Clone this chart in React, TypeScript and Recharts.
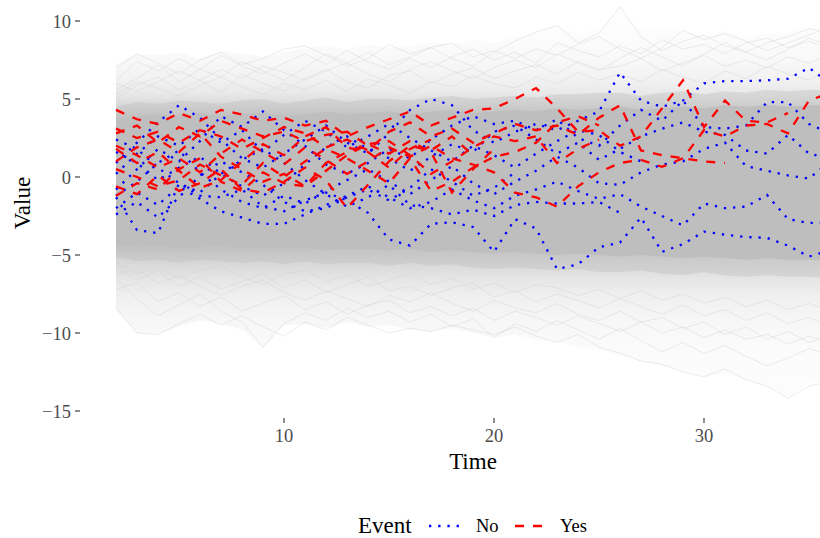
import React from 'react';
import { ComposedChart, Line, Area, XAxis, YAxis, Legend } from 'recharts';

const FONT = '"Liberation Serif", "Times New Roman", serif';

// time points
const times = [2, 3, 4, 5, 6, 7, 8, 9, 10, 11, 12, 13, 14, 15, 16, 17, 18, 19, 20, 21, 22, 23, 24, 25, 26, 27, 28, 29, 30, 31, 32, 33, 34, 35, 36];
const xTicks = [10, 20, 30];
const yTicks = [-15, -10, -5, 0, 5, 10];

// grey background (all subjects) – envelopes
const coreHigh = [3.7, 3.9, 4.0, 3.9, 4.1, 3.9, 4.0, 4.1, 3.9, 4.0, 4.2, 4.0, 4.1, 4.2, 4.0, 4.2, 4.3, 4.1, 4.2, 4.3, 4.2, 4.4, 4.3, 4.4, 4.5, 4.3, 4.4, 4.5, 4.4, 4.6, 4.5, 4.6, 4.5, 4.6, 4.6];
const coreLow = [-4.3, -4.5, -4.4, -4.6, -4.5, -4.4, -4.6, -4.5, -4.6, -4.5, -4.7, -4.6, -4.6, -4.7, -4.6, -4.8, -4.7, -4.8, -4.9, -4.8, -4.9, -5.0, -4.9, -5.0, -5.1, -5.0, -5.1, -5.2, -5.1, -5.2, -5.3, -5.2, -5.3, -5.3, -5.4];
const innerHigh = [4.5, 4.8, 4.7, 4.9, 4.8, 4.7, 4.9, 5.0, 4.7, 4.9, 5.1, 4.8, 5.0, 5.0, 4.9, 5.1, 5.2, 5.0, 5.1, 5.2, 5.1, 5.3, 5.3, 5.4, 5.4, 5.2, 5.4, 5.5, 5.3, 5.5, 5.4, 5.6, 5.5, 5.6, 5.5];
const innerLow = [-5.1, -5.4, -5.3, -5.5, -5.3, -5.4, -5.5, -5.4, -5.6, -5.4, -5.6, -5.5, -5.5, -5.7, -5.5, -5.7, -5.6, -5.8, -5.9, -5.8, -5.9, -6.0, -5.9, -6.1, -6.1, -6.0, -6.2, -6.3, -6.1, -6.3, -6.4, -6.3, -6.4, -6.4, -6.5];
const outerHigh = [7.2, 7.9, 7.8, 8.0, 7.6, 8.1, 7.9, 7.7, 8.0, 8.3, 8.4, 8.2, 8.5, 8.3, 8.4, 8.6, 8.5, 8.8, 8.6, 9.0, 9.3, 9.7, 9.2, 9.5, 10.9, 9.4, 9.6, 9.3, 9.1, 9.4, 9.0, 9.2, 9.3, 9.6, 9.4];
const outerLow = [-8.5, -10.0, -10.1, -9.6, -9.2, -9.4, -9.8, -11.0, -9.5, -9.4, -9.7, -9.3, -9.6, -9.5, -9.8, -9.9, -9.7, -10.0, -10.3, -10.1, -10.4, -10.6, -10.9, -11.1, -11.4, -11.8, -12.1, -12.4, -12.8, -12.6, -13.0, -13.4, -14.2, -13.1, -13.3];

// a few faint individual grey trajectories in the fringes
const greyTop1 = [6.2, 7.4, 6.8, 7.6, 6.9, 7.8, 7.1, 6.6, 7.3, 7.9, 7.2, 8.1, 7.4, 6.9, 7.6, 7.0, 7.7, 8.2, 7.5, 8.0, 7.3, 8.6, 8.1, 7.7, 8.4, 7.9, 8.8, 8.2, 8.5, 7.9, 8.6, 8.9, 8.3, 8.7, 8.2];
const greyTop2 = [5.6, 6.3, 7.2, 6.1, 6.9, 6.4, 7.4, 6.8, 6.2, 7.0, 7.9, 7.3, 8.0, 7.2, 7.7, 8.3, 7.6, 7.1, 8.0, 8.7, 9.3, 9.7, 8.6, 9.2, 10.9, 9.0, 8.1, 8.7, 9.1, 8.4, 8.0, 8.6, 9.0, 9.5, 9.3];
const greyTop3 = [7.0, 7.9, 7.3, 6.6, 7.5, 8.0, 7.2, 7.6, 8.2, 8.4, 7.8, 7.1, 7.6, 8.5, 7.9, 8.3, 8.6, 7.7, 8.1, 7.6, 8.2, 7.8, 8.5, 9.0, 8.2, 7.6, 8.3, 9.4, 8.8, 9.2, 8.7, 8.1, 8.6, 9.1, 9.6];
const greyTop4 = [5.0, 5.9, 6.4, 5.6, 6.2, 5.4, 6.6, 6.0, 5.5, 6.3, 6.9, 6.1, 5.7, 6.5, 6.8, 6.0, 6.6, 7.0, 6.3, 6.8, 7.2, 6.6, 7.4, 6.9, 7.1, 7.6, 6.8, 7.3, 7.8, 7.1, 7.5, 7.0, 7.7, 7.3, 7.9];
const greyTop5 = [6.0, 5.5, 6.1, 6.8, 6.2, 6.9, 6.3, 7.1, 6.7, 6.2, 6.8, 7.3, 6.6, 6.1, 6.9, 7.4, 6.8, 6.3, 7.0, 7.5, 7.0, 7.9, 7.3, 6.8, 7.6, 8.3, 7.7, 7.1, 7.9, 8.6, 8.0, 7.5, 8.2, 8.9, 8.4];
const greyTop6 = [5.3, 6.1, 5.7, 5.2, 5.9, 6.4, 5.8, 5.3, 6.0, 5.6, 6.2, 5.5, 6.3, 5.9, 5.4, 6.1, 5.8, 6.5, 6.0, 5.7, 6.4, 6.0, 6.7, 6.2, 6.6, 6.1, 6.9, 6.4, 6.0, 6.8, 6.3, 7.1, 6.6, 6.2, 6.9];
const greyBot1 = [-6.5, -7.8, -8.9, -8.2, -7.5, -8.6, -9.3, -10.9, -9.4, -8.7, -9.2, -8.4, -9.0, -8.6, -9.3, -8.8, -9.6, -9.1, -10.3, -9.4, -9.9, -9.2, -9.8, -10.4, -9.7, -10.5, -11.2, -10.6, -11.3, -10.8, -11.5, -12.1, -11.6, -11.0, -11.4];
const greyBot2 = [-8.4, -10.0, -10.1, -9.4, -8.8, -9.5, -8.9, -9.6, -10.2, -9.3, -9.8, -9.0, -9.5, -10.0, -9.7, -9.9, -9.5, -9.8, -10.1, -9.6, -10.2, -10.6, -10.1, -10.9, -11.3, -11.8, -12.0, -12.5, -12.8, -12.3, -13.0, -13.4, -14.2, -13.4, -13.1];
const greyBot3 = [-7.2, -6.8, -8.0, -7.4, -8.3, -7.7, -8.6, -8.1, -7.6, -8.5, -8.0, -8.8, -8.2, -7.9, -8.7, -8.3, -8.9, -8.4, -9.2, -8.6, -9.0, -9.5, -8.9, -9.4, -9.9, -9.3, -10.0, -9.6, -10.3, -9.8, -10.4, -10.1, -10.7, -10.2, -10.6];
const greyBot4 = [-5.8, -6.6, -6.0, -7.0, -6.4, -7.2, -6.7, -6.2, -7.1, -6.6, -7.4, -6.9, -6.4, -7.3, -7.0, -7.6, -7.1, -6.8, -7.7, -7.3, -8.0, -7.5, -7.9, -8.4, -7.8, -8.3, -8.8, -8.2, -8.9, -8.5, -9.2, -8.7, -9.4, -9.0, -9.6];
const greyBot5 = [-6.2, -5.9, -6.8, -6.3, -7.0, -7.6, -7.0, -6.6, -7.4, -7.9, -7.3, -7.8, -8.3, -7.6, -8.0, -7.4, -8.1, -8.6, -7.9, -8.4, -8.7, -8.1, -8.8, -9.2, -8.6, -9.3, -9.0, -9.7, -9.3, -10.1, -9.6, -10.4, -9.9, -10.6, -10.2];
const greyBot6 = [-5.5, -6.2, -5.8, -6.5, -6.0, -5.7, -6.4, -6.9, -6.2, -6.0, -6.7, -6.3, -7.0, -6.6, -6.2, -6.9, -6.5, -7.2, -6.8, -7.4, -6.9, -7.1, -7.6, -7.2, -7.8, -7.3, -7.9, -7.5, -8.1, -7.7, -8.3, -7.9, -8.5, -8.1, -8.6];

// Event = No (blue, dotted)
const no1 = [0.9, 2.2, 3.5, 4.6, 3.8, 2.4, 1.2, 0.6, 1.5, 2.4, 3.3, 2.2, 1.5, 2.8, 4.3, 5.0, 4.6, 3.0, 2.2, 2.9, 3.4, 3.0, 3.6, 4.2, 6.7, 4.9, 4.5, 4.9, 6.0, 6.15, 6.15, 6.2, 6.3, 7.0, 6.0];
const no2 = [-0.8, 0.5, 1.8, 1.0, 2.3, 3.9, 3.2, 4.2, 3.0, 2.0, 0.8, 0.2, 0.9, 1.8, 1.2, 2.4, 3.3, 3.9, 3.4, 3.6, 3.0, 3.7, 2.5, 2.0, 3.3, 4.3, 3.6, 4.9, 3.2, 3.1, 3.3, 4.8, 4.8, 3.4, 2.8];
const no3 = [1.6, 0.9, -0.2, 0.6, 1.3, 0.2, -0.6, -1.2, -0.4, 0.8, 1.9, 2.6, 1.8, 1.2, 0.4, 1.3, 2.1, 1.6, 2.9, 3.3, 2.4, 1.5, 2.2, 1.1, 1.8, 2.6, 3.1, 3.5, 2.9, 2.7, 1.7, 1.5, 2.7, 1.5, 1.2];
const no4 = [-1.2, -0.3, 0.9, 1.7, 0.3, -0.8, -1.6, -2.0, -1.2, -1.7, -0.9, -0.2, 0.5, -0.3, -1.1, -0.2, 0.7, -0.4, -1.1, -0.3, 0.4, 1.3, 0.6, -0.4, -0.5, 0.3, 0.8, 1.0, 1.8, 2.2, 0.7, 0.4, 0.1, -0.1, 1.0];
const no5 = [-2.0, -1.0, -1.8, -0.6, -1.4, -2.2, -2.6, -3.0, -3.0, -2.4, -1.8, -1.2, -0.6, -1.3, -2.0, -1.6, -0.8, -1.5, -2.0, -1.2, -0.8, -0.3, -0.9, -1.4, -1.1, -1.9, -2.5, -3.1, -1.7, -2.0, -1.9, -1.15, -2.7, -2.95, -2.9];
const no6 = [-1.3, -3.4, -3.6, -0.4, -1.2, -1.3, -0.8, -1.9, -2.2, -1.5, -1.0, -1.5, -2.3, -4.0, -4.4, -3.0, -2.9, -3.2, -4.8, -2.7, -3.3, -5.9, -5.6, -4.5, -4.2, -2.6, -4.8, -4.3, -3.5, -3.7, -3.85, -3.9, -4.4, -5.1, -4.7];
const no7 = [2.4, 1.8, 0.6, -0.4, -1.0, 0.2, 1.1, 1.8, 0.9, -0.2, -1.1, -1.9, -1.3, -0.5, -1.8, -2.0, -2.4, -2.1, -2.5, -1.8, -1.6, -1.7, -1.7, -1.6, -2.3, null, null, null, null, null, null, null, null, null, null];
const no8 = [0.2, 1.5, 2.6, 2.0, 3.1, 2.2, 3.0, 1.6, 2.7, 3.6, 2.9, 1.9, 2.6, 3.4, 2.5, 1.7, 1.0, 2.0, 1.4, 0.6, 1.5, 2.3, 3.0, 2.7, 1.6, 1.0, null, null, null, null, null, null, null, null, null];
const no9 = [-2.4, -1.6, -2.6, -1.3, 0.1, 1.0, 0.3, -0.5, -1.6, -2.2, -2.0, -1.3, -0.8, -1.5, -0.7, 0.5, -0.3, -1.2, -0.7, 0.3, null, null, null, null, null, null, null, null, null, null, null, null, null, null, null];

// Event = Yes (red, dashed)
const yes1 = [4.3, 3.7, 3.4, 4.1, 3.6, 4.3, 4.0, 3.6, 3.8, 3.3, 3.6, 2.6, 3.2, 3.7, 4.2, 3.3, 3.8, 4.3, 4.4, 5.0, 5.7, 4.4, 2.9, 3.0, 2.0, 2.6, 4.4, 6.2, 3.2, 4.9, 3.6, 3.5, 4.1, null, null];
const yes2 = [3.1, 2.5, 2.9, 2.2, 3.0, 2.6, 1.8, 2.5, 3.2, 2.8, 1.9, 2.4, 1.7, 2.9, 3.5, 2.6, 3.1, 2.2, 2.8, 3.4, 3.0, 3.3, 2.7, 3.8, 4.6, 1.7, 1.4, 1.2, 1.0, 0.9, null, null, null, null, null];
const yes3 = [2.0, 1.4, 0.6, 1.2, 0.3, 1.5, 2.4, 1.6, 0.8, 1.9, 1.1, 0.2, 1.0, 1.9, 1.3, 2.0, 1.2, 0.8, 0.3, -1.0, -1.3, -1.9, -0.6, 0.3, 0.9, 1.1, 0.65, 1.2, 3.0, 2.6, 3.3, 3.4, 2.8, 4.9, 5.4];
const yes4 = [1.0, 1.9, 2.4, 1.6, 2.8, 1.3, 0.5, -0.3, 0.2, -0.6, 0.4, 1.4, 2.1, 1.5, 2.3, 1.6, -1.0, 0.5, 1.8, null, null, null, null, null, null, null, null, null, null, null, null, null, null, null, null];
const yes5 = [-0.6, -1.1, 0.1, -0.9, -0.4, 0.5, -0.8, -1.0, -0.3, 0.6, -0.2, -2.0, -0.5, 1.0, 2.0, 1.7, 2.6, 1.4, null, null, null, null, null, null, null, null, null, null, null, null, null, null, null, null, null];
const yes6 = [1.8, 0.9, 1.6, 0.4, -0.7, -0.2, 1.0, 2.1, 1.4, 2.6, 3.2, 1.9, 1.6, 0.6, 1.8, 2.4, null, null, null, null, null, null, null, null, null, null, null, null, null, null, null, null, null, null, null];
const yes7 = [-1.2, -0.4, -0.8, 0.5, 1.2, -0.3, -0.9, 0.3, -0.4, -0.6, 0.9, 1.6, 2.1, 2.3, 1.4, 0.2, 1.0, 1.9, 2.6, 2.3, 2.6, 0.9, 1.8, 2.4, null, null, null, null, null, null, null, null, null, null, null];
const yes8 = [2.8, 3.3, 2.2, 3.2, 2.6, 3.6, 3.1, 2.6, 2.9, 2.3, 2.7, 2.9, 2.0, null, null, null, null, null, null, null, null, null, null, null, null, null, null, null, null, null, null, null, null, null, null];
const yes9 = [0.5, 0.0, -0.6, -0.2, 0.8, 0.1, -0.5, 0.9, 0.0, 1.0, 1.8, 1.2, 0.4, -0.4, 1.2, -0.9, -0.3, 0.6, 1.3, 1.6, 2.2, 3.5, 3.9, 3.3, null, null, null, null, null, null, null, null, null, null, null];

const noSeries = { no1, no2, no3, no4, no5, no6, no7, no8, no9 };
const yesSeries = { yes1, yes2, yes3, yes4, yes5, yes6, yes7, yes8, yes9 };
const greySeries = { greyTop1, greyTop2, greyTop3, greyTop4, greyTop5, greyTop6, greyBot1, greyBot2, greyBot3, greyBot4, greyBot5, greyBot6 };

const rows = times.map((t, i) => {
  const row: Record<string, any> = {
    t,
    outer: [outerLow[i], outerHigh[i]],
    inner: [innerLow[i], innerHigh[i]],
    core: [coreLow[i], coreHigh[i]],
  };
  Object.entries(greySeries).forEach(([k, arr]) => (row[k] = arr[i]));
  Object.entries(noSeries).forEach(([k, arr]) => (row[k] = arr[i]));
  Object.entries(yesSeries).forEach(([k, arr]) => (row[k] = arr[i]));
  return row;
});

const BLUE = '#0000FF';
const RED = '#FF0000';
const LW = 2.3;
const DOTTED = '2.3 6.9';
const DASHED = '9 9';

// vertical fade of the grey cloud (offset, colour)
const fadeStops: [number, string][] = [
  [0.0, '#ffffff'],
  [0.088, '#fcfcfc'],
  [0.144, '#f8f8f8'],
  [0.188, '#f2f2f2'],
  [0.222, '#e9e9e9'],
  [0.248, '#dbdbdb'],
  [0.267, '#cdcdcd'],
  [0.282, '#c3c3c3'],
  [0.588, '#c3c3c3'],
  [0.606, '#cdcdcd'],
  [0.632, '#d9d9d9'],
  [0.666, '#e5e5e5'],
  [0.707, '#efefef'],
  [0.759, '#f6f6f6'],
  [0.834, '#fbfbfb'],
  [1.0, '#fdfdfd'],
];

const fmt = (v: number) => (v < 0 ? '\u2212' + Math.abs(v) : String(v));

const LegendContent = () => (
  <svg width={820} height={30} style={{ display: 'block', overflow: 'visible' }}>
    <text x={358} y={24.5} fontSize={23} fontFamily={FONT} fill="#000">Event</text>
    <line x1={429} x2={462} y1={18} y2={18} stroke={BLUE} strokeWidth={LW} strokeDasharray={DOTTED} />
    <text x={476} y={24} fontSize={18.5} fontFamily={FONT} fill="#000">No</text>
    <line x1={515} x2={548} y1={18} y2={18} stroke={RED} strokeWidth={LW} strokeDasharray={DASHED} />
    <text x={560} y={24} fontSize={18.5} fontFamily={FONT} fill="#000">Yes</text>
  </svg>
);

const tickStyle = { fill: '#4D4D4D', fontSize: 18.5, fontFamily: FONT };

export default function App() {
  return (
    <div style={{ position: 'absolute', left: 0, top: 0, width: 820, height: 538, background: '#fff', fontFamily: FONT }}>
      <ComposedChart width={820} height={538} data={rows} margin={{ top: 0, right: 0, bottom: 0, left: 0 }}>
        <defs>
          <linearGradient id="cloudFade" gradientUnits="userSpaceOnUse" x1="0" y1="0" x2="0" y2="418">
            {fadeStops.map(([o, c]) => (
              <stop key={o} offset={o} stopColor={c} />
            ))}
          </linearGradient>
        </defs>
        <XAxis
          dataKey="t"
          type="number"
          domain={[0.2857, 35.524]}
          allowDataOverflow
          ticks={xTicks}
          height={90}
          axisLine={false}
          tickSize={5}
          tickMargin={6}
          tickLine={{ stroke: '#333333', strokeWidth: 1.1 }}
          tick={tickStyle}
          label={{
            content: () => (
              <text x={473} y={469} textAnchor="middle" fontSize={23} fontFamily={FONT} fill="#000">Time</text>
            ),
          }}
        />
        <YAxis
          type="number"
          domain={[-15.449, 11.346]}
          allowDataOverflow
          ticks={yTicks}
          width={80}
          axisLine={false}
          tickSize={5}
          tickMargin={4}
          tickFormatter={fmt}
          tickLine={{ stroke: '#333333', strokeWidth: 1.1 }}
          tick={tickStyle}
          label={{
            content: () => (
              <text x={30} y={203} transform="rotate(-90, 30, 203)" textAnchor="middle" fontSize={23} fontFamily={FONT} fill="#000">Value</text>
            ),
          }}
        />
        <Legend verticalAlign="bottom" height={30} wrapperStyle={{ left: 0, bottom: 0, width: 820, height: 30 }} content={LegendContent} />
        <Area dataKey="outer" type="linear" stroke="none" fill="url(#cloudFade)" fillOpacity={1} isAnimationActive={false} dot={false} activeDot={false} legendType="none" />
        <Area dataKey="inner" type="linear" stroke="none" fill="#bebebe" fillOpacity={0.4} isAnimationActive={false} dot={false} activeDot={false} legendType="none" />
        <Area dataKey="core" type="linear" stroke="none" fill="#bebebe" fillOpacity={1} isAnimationActive={false} dot={false} activeDot={false} legendType="none" />
        {Object.keys(greySeries).map((k) => (
          <Line key={k} dataKey={k} type="linear" stroke="#cdcdcd" strokeOpacity={0.55} strokeWidth={0.7} dot={false} activeDot={false} isAnimationActive={false} legendType="none" />
        ))}
        {Object.keys(noSeries).map((k) => (
          <Line key={k} dataKey={k} type="linear" stroke={BLUE} strokeWidth={LW} strokeDasharray={DOTTED} dot={false} activeDot={false} isAnimationActive={false} />
        ))}
        {Object.keys(yesSeries).map((k) => (
          <Line key={k} dataKey={k} type="linear" stroke={RED} strokeWidth={LW} strokeDasharray={DASHED} dot={false} activeDot={false} isAnimationActive={false} />
        ))}
      </ComposedChart>
    </div>
  );
}
